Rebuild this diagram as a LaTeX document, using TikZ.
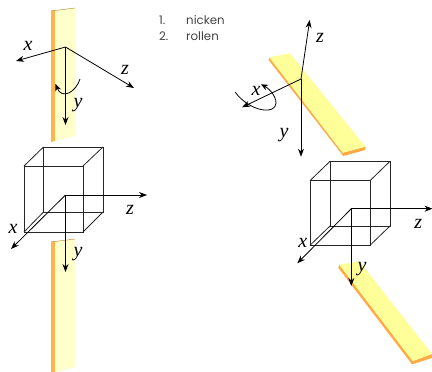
\documentclass[tikz,border=0pt]{standalone}
\usepackage{amsmath,amssymb,xcolor,fontspec}
\usetikzlibrary{arrows.meta}
\setmainfont{Liberation Serif}
\newfontfamily\listfont{Poppins}
\definecolor{palefront}{HTML}{FFFFCC}
\definecolor{paleside}{HTML}{FFB44C}
\definecolor{tiltfront}{HTML}{FFFF99}
\definecolor{tiltside}{HTML}{FFAA44}
\definecolor{listgray}{HTML}{444444}
\tikzset{
  axis/.style={draw=black,line width=0.8pt,-{Stealth[length=8pt,width=6pt]}},
  turn/.style={draw=black,line width=0.8pt,-{Stealth[length=7pt,width=6pt]}},
  box/.style={draw=black!85,line width=0.8pt},
  axlabel/.style={font=\itshape\fontsize{20}{20}\selectfont,inner sep=0pt},
  listlabel/.style={font=\listfont\fontsize{11.8}{14}\selectfont,text=listgray,inner sep=0pt,anchor=base west}
}
\begin{document}
\begin{tikzpicture}[x=1pt,y=-1pt]
\useasboundingbox (0,0) rectangle (432,372);
% upper left
\fill[paleside] (51,11)--(55,10)--(55,141)--(51,142)--cycle;
\fill[palefront] (55,10)--(75,8)--(75,136)--(55,141)--cycle;
\draw[paleside!70!black,line width=0.4pt] (51,11)--(75,8);
\coordinate (oa) at (65.5,47);
\draw[axis] (oa)--(16,61);
\draw[axis] (oa)--(134,88);
\draw[axis] (oa)--(65.5,125);
\draw[turn] (80,79) .. controls (76,92) and (62,100) .. (55.5,84);
\node[axlabel] (xa) at (28,46) {x};
\node[axlabel] (za) at (125,70) {z};
\node[axlabel] (ya) at (78,105) {y};
% lower left
\draw[box] (24,166) rectangle (83,232);
\draw[box] (43.5,147) rectangle (103,212);
\draw[box] (24,166)--(43.5,147) (83,166)--(103,147) (83,232)--(103,212) (24,232)--(43.5,212);
\fill[paleside] (51,242)--(55,241)--(55,372)--(51,372)--cycle;
\fill[palefront] (55,241)--(75,239)--(75,367)--(55,372)--cycle;
\draw[paleside!70!black,line width=0.4pt] (51,242)--(75,239);
\coordinate (ob) at (65.5,195);
\draw[axis] (ob)--(147,195);
\draw[axis] (ob)--(11,249);
\draw[axis] (ob)--(65.5,272);
\node[axlabel] (xb) at (13,229) {x};
\node[axlabel] (zb) at (130,210) {z};
\node[axlabel] (yb) at (78,254) {y};
% list
\node[listlabel] (na) at (159,24.5) {1.};
\node[listlabel] (nb) at (159,40) {2.};
\node[listlabel] (ta) at (186,24.5) {nicken};
\node[listlabel] (tb) at (186,40) {rollen};
% upper right
\fill[tiltside] (268.7,60)--(269.3,57.3)--(342.7,152.7)--(365.3,146.7)--(365.3,150)--(343.3,156)--cycle;
\fill[tiltfront] (269.3,57.3)--(290,53.3)--(365.3,146.7)--(342.7,152.7)--cycle;
\coordinate (oc) at (301,79);
\draw[axis] (oc)--(309.7,20);
\draw[axis] (oc)--(242,107.3);
\draw[axis] (oc)--(301,156.7);
\draw[turn] (235.3,92.3) .. controls (250,112) and (276,115) .. (276,103) .. controls (276,95) and (268,88) .. (261,84.3);
\node[axlabel] (xc) at (256,91) {x};
\node[axlabel] (zc) at (320,38) {z};
\node[axlabel] (yc) at (284,135) {y};
% lower right
\draw[box] (310,180.7) rectangle (370,245.3);
\draw[box] (330,161.3) rectangle (390,226);
\draw[box] (310,180.7)--(330,161.3) (370,180.7)--(390,161.3) (370,245.3)--(390,226) (310,245.3)--(330,226);
\fill[tiltside] (338.3,267.7)--(339.3,264.7)--(412.7,361)--(432,354)--(432,358)--(412,364.3)--cycle;
\fill[tiltfront] (339.3,264.7)--(359.3,261.3)--(432,354)--(412.7,361)--cycle;
\coordinate (od) at (351.3,208.7);
\draw[axis] (od)--(432.5,208.7);
\draw[axis] (od)--(297.3,263.3);
\draw[axis] (od)--(351.3,286);
\node[axlabel] (xd) at (302.7,242.7) {x};
\node[axlabel] (zd) at (418.3,224.3) {z};
\node[axlabel] (yd) at (362,268.7) {y};
\end{tikzpicture}
\end{document}
